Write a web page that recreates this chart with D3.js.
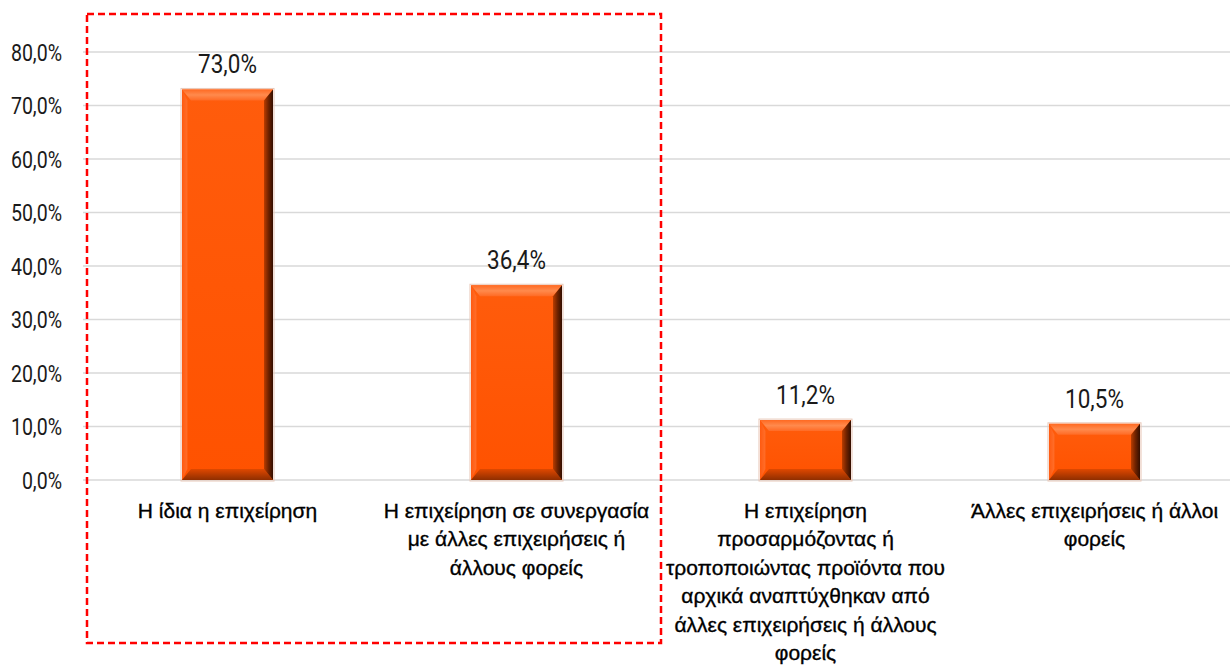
<!DOCTYPE html>
<html><head><meta charset="utf-8">
<script src="https://cdn.jsdelivr.net/npm/d3@7"></script>
<style>
html,body{margin:0;padding:0;background:#fff;}
svg{display:block;}
</style></head>
<body>
<svg id="chart" width="1230" height="666"></svg>
<script>
const categories = [
  "Η ίδια η επιχείρηση",
  "Η επιχείρηση σε συνεργασία με άλλες επιχειρήσεις ή άλλους φορείς",
  "Η επιχείρηση προσαρμόζοντας ή τροποποιώντας προϊόντα που αρχικά αναπτύχθηκαν από άλλες επιχειρήσεις ή άλλους φορείς",
  "Άλλες επιχειρήσεις ή άλλοι φορείς"
];
const categoryLines = [
  ["Η ίδια η επιχείρηση"],
  ["Η επιχείρηση σε συνεργασία", "με άλλες επιχειρήσεις ή", "άλλους φορείς"],
  ["Η επιχείρηση", "προσαρμόζοντας ή", "τροποποιώντας προϊόντα που", "αρχικά αναπτύχθηκαν από", "άλλες επιχειρήσεις ή άλλους", "φορείς"],
  ["Άλλες επιχειρήσεις ή άλλοι", "φορείς"]
];
const values = [73.0, 36.4, 11.2, 10.5];
const yTicks = [0, 10, 20, 30, 40, 50, 60, 70, 80];

const svg = d3.select("#chart");
const fmt = v => v.toFixed(1).replace(".", ",") + "%";
const numFont = "'Roboto','Liberation Sans',sans-serif";
const catFont = "'Liberation Sans','Arial',sans-serif";

const x = d3.scaleBand().domain(categories).range([83, 1239]).padding(0);
const y = d3.scaleLinear().domain([0, 80]).range([480, 52]);

// gridlines
svg.append("g").selectAll("line").data(yTicks).join("line")
  .attr("x1", 83).attr("x2", 1230)
  .attr("y1", d => y(d)).attr("y2", d => y(d))
  .attr("stroke", "#d9d9d9").attr("stroke-width", 1.5);

// y axis labels
const yAxis = d3.axisLeft(y).tickValues(yTicks).tickFormat(fmt).tickSize(0).tickPadding(0);
const ya = svg.append("g").attr("transform", "translate(62,0)").call(yAxis);
ya.select(".domain").remove();
ya.selectAll("text").attr("font-family", numFont).attr("font-size", 23).attr("fill", "#1a1a1a")
  .attr("x", 0).attr("dy", "0.35em").attr("transform", "scale(0.85,1)");

// gradients
const defs = svg.append("defs");
function grad(id, x1, y1, x2, y2, stops) {
  const g = defs.append("linearGradient").attr("id", id)
    .attr("x1", x1).attr("y1", y1).attr("x2", x2).attr("y2", y2);
  stops.forEach(s => g.append("stop").attr("offset", s[0]).attr("stop-color", s[1]));
}
grad("gMain", 0, 0, 0, 1, [[0, "#ff5c0c"], [1, "#ff5200"]]);
grad("gTop", 0, 0, 0, 1, [[0, "#ff6a22"], [0.5, "#ff8a4d"], [1, "#ff6a24"]]);
grad("gRight", 0, 0, 1, 0, [[0, "#b83c00"], [0.5, "#6e2200"], [1, "#320e00"]]);
grad("gBottom", 0, 0, 0, 1, [[0, "#e04800"], [1, "#8f2e00"]]);
grad("gLeft", 0, 0, 1, 0, [[0, "#ff5a10"], [1, "#ff6e2a"]]);

const barW = x.bandwidth() * 0.315;
const bars = svg.append("g").selectAll("g").data(values.map((v, i) => ({v, c: categories[i], i}))).join("g");
bars.each(function(d) {
  const g = d3.select(this);
  const x0 = x(d.c) + (x.bandwidth() - barW) / 2, x1 = x0 + barW;
  const y0 = y(d.v), y1 = y(0);
  const h = y1 - y0;
  const bv = Math.min(11, h / 3.2), bs = Math.min(9, barW / 8);
  g.append("rect").attr("x", x0 - 1).attr("y", y0 - 1).attr("width", barW + 2).attr("height", h + 2)
    .attr("fill", "none").attr("stroke", "#e8c8b8").attr("stroke-width", 1);
  g.append("rect").attr("x", x0).attr("y", y0).attr("width", barW).attr("height", h).attr("fill", "url(#gMain)");
  g.append("polygon").attr("points", [[x0, y0], [x1, y0], [x1 - bs, y0 + bv], [x0 + bs, y0 + bv]].join(" "))
    .attr("fill", "url(#gTop)");
  g.append("polygon").attr("points", [[x0, y0], [x0 + bs * 0.6, y0 + bv], [x0 + bs * 0.6, y1 - bv], [x0, y1]].join(" "))
    .attr("fill", "url(#gLeft)");
  g.append("polygon").attr("points", [[x0, y1], [x0 + bs, y1 - bv], [x1 - bs, y1 - bv], [x1, y1]].join(" "))
    .attr("fill", "url(#gBottom)");
  g.append("polygon").attr("points", [[x1, y0], [x1, y1], [x1 - bs, y1 - bv], [x1 - bs, y0 + bv]].join(" "))
    .attr("fill", "url(#gRight)");
  g.append("g").attr("transform", `translate(${(x0 + x1) / 2},${y0 - 16})`)
    .append("text").attr("x", 0).attr("y", 0).attr("transform", "scale(0.9,1)")
    .attr("text-anchor", "middle").attr("font-family", numFont).attr("font-size", 25)
    .attr("fill", "#1a1a1a").text(fmt(d.v));
});

// category labels
const cl = svg.append("g").selectAll("text").data(categoryLines).join("text")
  .attr("text-anchor", "middle")
  .attr("font-family", catFont).attr("font-size", 21).attr("fill", "#000")
  .attr("stroke", "#000").attr("stroke-width", 0.35);
cl.each(function(lines, i) {
  const t = d3.select(this);
  const cx = x(categories[i]) + x.bandwidth() / 2;
  lines.forEach((ln, k) => {
    t.append("tspan").attr("x", cx).attr("y", 518 + k * 28.4).text(ln);
  });
});

// dashed highlight rectangle
svg.append("rect").attr("x", 87).attr("y", 14).attr("width", 574).attr("height", 629)
  .attr("fill", "none").attr("stroke", "#ff0000").attr("stroke-width", 2.5)
  .attr("stroke-dasharray", "7,4");
</script>
</body></html>
